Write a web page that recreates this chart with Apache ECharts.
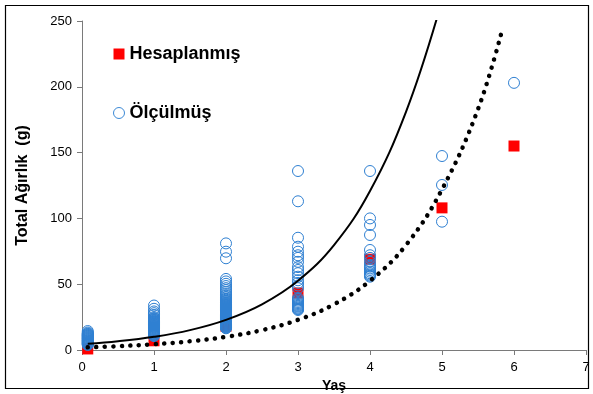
<!DOCTYPE html>
<html>
<head>
<meta charset="utf-8">
<script src="https://cdn.jsdelivr.net/npm/echarts@6/dist/echarts.min.js"></script>
<style>
html,body{margin:0;padding:0;background:#fff;}
#chart{width:593px;height:394px;}
</style>
</head>
<body>
<div id="chart"></div>
<script>
// ---- data ----
const xTicks = [0, 1, 2, 3, 4, 5, 6, 7];
const yTicks = [0, 50, 100, 150, 200, 250];

// calculated (Hesaplanmış) values by age
const calcAges = [0.08, 1, 2, 3, 4, 5, 6];
const calcValues = [0.8, 7, 18, 43.3, 69, 108, 155];

// measured (Ölçülmüş) values by age group
const measAge0 = [3.8, 4.2, 4.6, 5.0, 5.3, 5.7, 6.1, 6.5, 6.9, 7.2, 7.6, 8.0, 8.4, 8.8, 9.1, 9.5, 9.9, 10.3, 10.7, 11.0, 11.4, 11.8, 12.2, 12.6, 13.3, 14.4];
const measAge1 = [10.6, 11.0, 11.4, 11.8, 12.2, 12.5, 12.9, 13.3, 13.7, 14.1, 14.5, 14.9, 15.2, 15.6, 16.0, 16.4, 16.8, 17.2, 17.6, 17.9, 18.3, 18.7, 19.1, 19.5, 19.9, 20.3, 20.7, 21.1, 21.5, 21.9, 22.3, 22.8, 23.2, 23.7, 24.3, 25.0, 26.7, 28.0, 29.3, 31.3, 33.8];
const measAge2 = [16.5, 16.9, 17.3, 17.7, 18.1, 18.5, 18.9, 19.3, 19.7, 20.1, 20.5, 20.9, 21.3, 21.7, 22.1, 22.5, 22.9, 23.3, 23.7, 24.1, 24.5, 24.9, 25.3, 25.7, 26.1, 26.5, 26.9, 27.3, 27.7, 28.1, 28.5, 28.9, 29.3, 29.7, 30.1, 30.5, 30.9, 31.3, 31.7, 32.1, 32.5, 32.9, 33.3, 33.7, 34.1, 34.5, 34.9, 35.3, 35.8, 36.3, 36.9, 37.5, 38.2, 39.0, 40.0, 41.2, 42.5, 44.0, 45.5, 47.0, 48.6, 50.3, 52.1, 54.0, 69.7, 74.7, 81.0];
const measAge3 = [30.4, 31.0, 31.5, 32.2, 33.0, 33.6, 34.3, 35.0, 35.7, 36.5, 37.5, 38.5, 39.5, 47.0, 49.0, 51.0, 53.0, 55.7, 58.4, 60.8, 63.0, 67.0, 70.0, 72.0, 74.7, 78.5, 85.3, 113.0, 136.0];
const measAge4 = [55.7, 56.5, 57.3, 58.3, 59.5, 60.8, 62.0, 63.3, 64.6, 67.0, 70.0, 72.0, 76.0, 87.4, 95.0, 100.0, 136.0];
const measAge5 = [97.5, 125.4, 147.4];
const measAge6 = [203.0];
const measGroups = [[0.08, measAge0], [1, measAge1], [2, measAge2], [3, measAge3], [4, measAge4], [5, measAge5], [6, measAge6]];

// fitted curves
const solidX = [0.08, 0.5, 1, 1.5, 2, 2.5, 3, 3.5, 4, 4.5, 4.95];
const solidY = [4.7, 6.6, 10.0, 15.1, 22.9, 34.7, 52.6, 79.7, 120.8, 181, 256];
const dottedX = [0.08, 0.5, 1, 1.5, 2, 2.5, 3, 3.5, 4, 4.5, 5, 5.5, 5.84];
const dottedY = [2.0, 2.9, 4.4, 6.6, 10.0, 15.1, 22.9, 34.7, 52.6, 79.7, 122, 183, 244];

// ---- build ----
const calcData = calcAges.map((a, i) => [a, calcValues[i]]);
const measData = [];
measGroups.forEach(([a, vals]) => vals.forEach(v => measData.push([a, v])));
const solidData = solidX.map((x, i) => [x, solidY[i]]);
const dottedData = dottedX.map((x, i) => [x, dottedY[i]]);

const FONT = 'Liberation Sans, Arial, sans-serif';
const axisColor = '#7a7a7a';

const chart = echarts.init(document.getElementById('chart'), null, {renderer: 'canvas'});
chart.setOption({
  animation: false,
  backgroundColor: '#fff',
  grid: {left: 82, right: 7, top: 21, bottom: 44, containLabel: false, outerBoundsMode: 'none'},
  graphic: [{
    type: 'rect', silent: true, z: 100,
    shape: {x: 5.5, y: 5.5, width: 583, height: 383},
    style: {fill: 'none', stroke: '#000', lineWidth: 1.2}
  }],
  legend: {
    orient: 'vertical',
    left: 108, top: 40,
    itemGap: 41,
    itemWidth: 11, itemHeight: 11,
    textStyle: {fontFamily: FONT, fontSize: 18, fontWeight: 'bold', color: '#000'},
    data: [
      {name: 'Hesaplanmış', icon: 'rect'},
      {name: 'Ölçülmüş', icon: 'circle', itemStyle: {color: '#fff', borderColor: '#3d8ad6', borderWidth: 1}}
    ]
  },
  xAxis: {
    type: 'value', min: 0, max: 7, interval: 1,
    name: 'Yaş', nameLocation: 'middle', nameGap: 27,
    nameTextStyle: {fontFamily: FONT, fontSize: 14, fontWeight: 'bold', color: '#000'},
    axisLine: {show: true, lineStyle: {color: axisColor, width: 1}},
    axisTick: {show: true, length: 5, lineStyle: {color: axisColor}},
    axisLabel: {fontFamily: FONT, fontSize: 13, color: '#000', margin: 11,
      formatter: v => xTicks.includes(v) ? String(v) : ''},
    splitLine: {show: false}
  },
  yAxis: {
    type: 'value', min: 0, max: 250, interval: 50,
    name: 'Total Ağırlık  (g)', nameLocation: 'middle', nameGap: 51, nameRotate: 90,
    nameTextStyle: {fontFamily: FONT, fontSize: 16, fontWeight: 'bold', color: '#000'},
    axisLine: {show: true, lineStyle: {color: axisColor, width: 1}},
    axisTick: {show: true, length: 5, lineStyle: {color: axisColor}},
    axisLabel: {fontFamily: FONT, fontSize: 13, color: '#000', margin: 10,
      formatter: v => yTicks.includes(v) ? String(v) : ''},
    splitLine: {show: false}
  },
  series: [
    {
      name: 'Hesaplanmış', type: 'scatter', data: calcData,
      symbol: 'rect', symbolSize: 11, z: 2,
      itemStyle: {color: '#ff0000', opacity: 1}
    },
    {
      name: 'Ölçülmüş', type: 'scatter', data: measData,
      symbol: 'circle', symbolSize: 11, z: 3,
      itemStyle: {color: 'rgba(255,255,255,0)', borderColor: '#2f80d2', borderWidth: 1, opacity: 1}
    },
    {
      name: 'fit1', type: 'line', data: solidData, smooth: 0.4, showSymbol: false, z: 4,
      clip: true,
      lineStyle: {color: '#000', width: 2}
    },
    {
      name: 'fit2', type: 'line', data: dottedData, smooth: 0.4, showSymbol: false, z: 4,
      clip: true,
      lineStyle: {color: '#000', width: 4.5, type: [0.1, 8.4], cap: 'round'}
    }
  ]
});
</script>
</body>
</html>
